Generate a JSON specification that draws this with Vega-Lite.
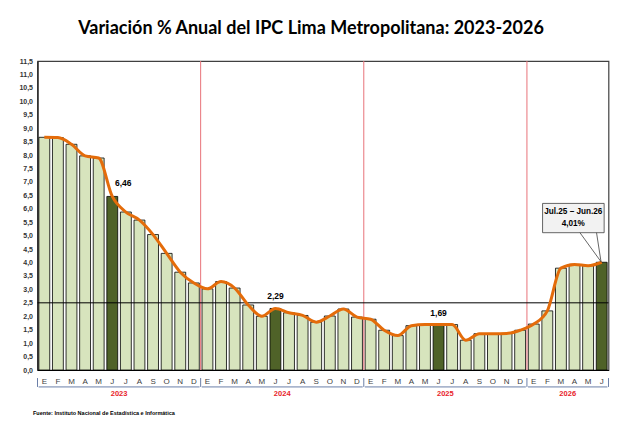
{
  "$schema": "https://vega.github.io/schema/vega-lite/v6.json",
  "autosize": {"type": "none"},
  "width": 571,
  "height": 309,
  "padding": {"left": 37.5, "top": 61, "right": 31.5, "bottom": 66},
  "background": "white",
  "config": {
    "locale": {"number": {"decimal": ",", "thousands": ".", "grouping": [3], "currency": ["", ""]}},
    "view": {"stroke": "#404040", "strokeWidth": 1.2},
    "axisY": {"grid": false, "ticks": false, "labelOverlap": false, "labelFont": "Liberation Sans", "labelFontWeight": "bold", "labelFontSize": 7, "labelColor": "#333", "labelPadding": 5, "domainColor": "#000", "domainWidth": 1}
  },
  "title": {
    "text": "Variación % Anual del IPC Lima Metropolitana: 2023-2026",
    "font": "Lato", "fontSize": 18, "fontWeight": "bold", "color": "#000",
    "anchor": "middle", "frame": "group", "offset": 5, "baseline": "alphabetic", "dx": -12
  },
  "datasets": {
    "ipc": [
      {"t": "2023-01", "v": 8.66, "d": "n"}, {"t": "2023-02", "v": 8.65, "d": "n"}, {"t": "2023-03", "v": 8.40, "d": "n"},
      {"t": "2023-04", "v": 7.97, "d": "n"}, {"t": "2023-05", "v": 7.89, "d": "n"}, {"t": "2023-06", "v": 6.46, "d": "s"},
      {"t": "2023-07", "v": 5.88, "d": "n"}, {"t": "2023-08", "v": 5.58, "d": "n"}, {"t": "2023-09", "v": 5.04, "d": "n"},
      {"t": "2023-10", "v": 4.34, "d": "n"}, {"t": "2023-11", "v": 3.64, "d": "n"}, {"t": "2023-12", "v": 3.24, "d": "n"},
      {"t": "2024-01", "v": 3.02, "d": "n"}, {"t": "2024-02", "v": 3.29, "d": "n"}, {"t": "2024-03", "v": 3.05, "d": "n"},
      {"t": "2024-04", "v": 2.42, "d": "n"}, {"t": "2024-05", "v": 2.00, "d": "n"}, {"t": "2024-06", "v": 2.29, "d": "s"},
      {"t": "2024-07", "v": 2.13, "d": "n"}, {"t": "2024-08", "v": 2.03, "d": "n"}, {"t": "2024-09", "v": 1.78, "d": "n"},
      {"t": "2024-10", "v": 2.01, "d": "n"}, {"t": "2024-11", "v": 2.27, "d": "n"}, {"t": "2024-12", "v": 1.97, "d": "n"},
      {"t": "2025-01", "v": 1.89, "d": "n"}, {"t": "2025-02", "v": 1.48, "d": "n"}, {"t": "2025-03", "v": 1.28, "d": "n"},
      {"t": "2025-04", "v": 1.65, "d": "n"}, {"t": "2025-05", "v": 1.69, "d": "n"}, {"t": "2025-06", "v": 1.69, "d": "s"},
      {"t": "2025-07", "v": 1.69, "d": "n"}, {"t": "2025-08", "v": 1.11, "d": "n"}, {"t": "2025-09", "v": 1.35, "d": "n"},
      {"t": "2025-10", "v": 1.35, "d": "n"}, {"t": "2025-11", "v": 1.36, "d": "n"}, {"t": "2025-12", "v": 1.48, "d": "n"},
      {"t": "2026-01", "v": 1.71, "d": "n"}, {"t": "2026-02", "v": 2.20, "d": "n"}, {"t": "2026-03", "v": 3.79, "d": "n"},
      {"t": "2026-04", "v": 3.93, "d": "n"}, {"t": "2026-05", "v": 3.88, "d": "n"}, {"t": "2026-06", "v": 4.01, "d": "s"}
    ],
    "anios": [
      {"anio": "2023", "s": 0, "e": 12},
      {"anio": "2024", "s": 12, "e": 24},
      {"anio": "2025", "s": 24, "e": 36},
      {"anio": "2026", "s": 36, "e": 42}
    ],
    "cortes": [{"b": 0}, {"b": 12}, {"b": 24}, {"b": 36}, {"b": 42}],
    "rojos": [{"b": 12}, {"b": 24}, {"b": 36}],
    "uno": [{}]
  },
  "layer": [
    {
      "data": {"name": "ipc"},
      "mark": {"type": "bar", "stroke": "#000", "strokeWidth": 0.8},
      "encoding": {
        "x": {
          "field": "t", "type": "ordinal", "sort": null, "title": null,
          "scale": {"paddingInner": 0.2, "paddingOuter": 0.1},
          "axis": {
            "labelExpr": "['E','F','M','A','M','J','J','A','S','O','N','D'][toNumber(substring(datum.value,5,7))-1]",
            "labelAngle": 0, "ticks": false, "domainColor": "#000", "domainWidth": 1,
            "labelFont": "Liberation Sans", "labelFontSize": 8, "labelColor": "#404040", "labelPadding": 7
          }
        },
        "y": {
          "field": "v", "type": "quantitative", "title": null,
          "scale": {"domain": [0, 11.5], "nice": false, "zero": true},
          "axis": {"values": [0, 0.5, 1, 1.5, 2, 2.5, 3, 3.5, 4, 4.5, 5, 5.5, 6, 6.5, 7, 7.5, 8, 8.5, 9, 9.5, 10, 10.5, 11, 11.5], "format": ".1f", "labelOverlap": false}
        },
        "fill": {"field": "d", "type": "nominal", "scale": {"domain": ["n", "s"], "range": ["#d7e4bd", "#4f6228"]}, "legend": null}
      }
    },
    {
      "layer": [
        {
          "data": {"name": "rojos"},
          "mark": {"type": "rule", "color": "#e8737a", "strokeWidth": 1},
          "encoding": {
            "x": {"field": "b", "type": "quantitative", "scale": {"domain": [0, 42], "nice": false, "zero": false}, "axis": null},
            "y": {"datum": 0, "title": null, "axis": {"values": [0, 0.5, 1, 1.5, 2, 2.5, 3, 3.5, 4, 4.5, 5, 5.5, 6, 6.5, 7, 7.5, 8, 8.5, 9, 9.5, 10, 10.5, 11, 11.5], "format": ".1f", "labelOverlap": false}},
            "y2": {"datum": 11.5}
          }
        },
        {
          "data": {"name": "anios"},
          "transform": [{"calculate": "datum.s + 0.08", "as": "s2"}, {"calculate": "datum.e - 0.08", "as": "e2"}],
          "mark": {"type": "rule", "color": "#6b7fa8", "strokeWidth": 1},
          "encoding": {
            "x": {"field": "s2", "type": "quantitative", "axis": null},
            "x2": {"field": "e2"},
            "y": {"datum": -0.63, "title": null, "axis": {"values": [0, 0.5, 1, 1.5, 2, 2.5, 3, 3.5, 4, 4.5, 5, 5.5, 6, 6.5, 7, 7.5, 8, 8.5, 9, 9.5, 10, 10.5, 11, 11.5], "format": ".1f", "labelOverlap": false}}
          }
        },
        {
          "data": {"name": "cortes"},
          "mark": {"type": "rule", "color": "#6b7fa8", "strokeWidth": 1},
          "encoding": {
            "x": {"field": "b", "type": "quantitative", "axis": null},
            "y": {"datum": -0.3, "title": null, "axis": {"values": [0, 0.5, 1, 1.5, 2, 2.5, 3, 3.5, 4, 4.5, 5, 5.5, 6, 6.5, 7, 7.5, 8, 8.5, 9, 9.5, 10, 10.5, 11, 11.5], "format": ".1f", "labelOverlap": false}},
            "y2": {"datum": -0.63}
          }
        },
        {
          "data": {"name": "anios"},
          "transform": [{"calculate": "(datum.s + datum.e) / 2", "as": "mid"}],
          "mark": {"type": "text", "color": "#e8232a", "font": "Liberation Sans", "fontWeight": "bold", "fontSize": 7.5, "baseline": "middle"},
          "encoding": {
            "x": {"field": "mid", "type": "quantitative", "axis": null},
            "y": {"datum": -0.88, "title": null, "axis": {"values": [0, 0.5, 1, 1.5, 2, 2.5, 3, 3.5, 4, 4.5, 5, 5.5, 6, 6.5, 7, 7.5, 8, 8.5, 9, 9.5, 10, 10.5, 11, 11.5], "format": ".1f", "labelOverlap": false}},
            "text": {"field": "anio"}
          }
        },
        {
          "data": {"name": "uno"},
          "mark": {"type": "text", "text": "Fuente: Instituto Nacional de Estadística e Informática", "color": "#000", "font": "Liberation Sans", "fontWeight": "bold", "fontSize": 5.5, "align": "left", "baseline": "middle"},
          "encoding": {
            "x": {"datum": -0.33, "type": "quantitative", "axis": null},
            "y": {"datum": -1.6, "title": null, "axis": {"values": [0, 0.5, 1, 1.5, 2, 2.5, 3, 3.5, 4, 4.5, 5, 5.5, 6, 6.5, 7, 7.5, 8, 8.5, 9, 9.5, 10, 10.5, 11, 11.5], "format": ".1f", "labelOverlap": false}}
          }
        }
      ]
    },
    {
      "data": {"name": "ipc"},
      "layer": [
        {
          "data": {"name": "uno"},
          "mark": {"type": "rule", "color": "#000", "strokeWidth": 1},
          "encoding": {"y": {"datum": 2.5, "title": null, "axis": {"values": [0, 0.5, 1, 1.5, 2, 2.5, 3, 3.5, 4, 4.5, 5, 5.5, 6, 6.5, 7, 7.5, 8, 8.5, 9, 9.5, 10, 10.5, 11, 11.5], "format": ".1f", "labelOverlap": false}}}
        },
        {
          "mark": {"type": "line", "color": "#e46c0a", "strokeWidth": 3, "interpolate": "monotone"},
          "encoding": {
            "x": {"field": "t", "type": "ordinal", "sort": null, "scale": {"paddingInner": 0.2, "paddingOuter": 0.1}, "axis": null},
            "y": {"field": "v", "type": "quantitative", "title": null, "axis": {"values": [0, 0.5, 1, 1.5, 2, 2.5, 3, 3.5, 4, 4.5, 5, 5.5, 6, 6.5, 7, 7.5, 8, 8.5, 9, 9.5, 10, 10.5, 11, 11.5], "format": ".1f", "labelOverlap": false}}
          }
        },
        {
          "transform": [{"filter": "datum.t == '2023-06'"}],
          "mark": {"type": "text", "font": "Liberation Sans", "fontWeight": "bold", "fontSize": 8.5, "color": "#000", "dy": -13, "dx": 11, "baseline": "middle"},
          "encoding": {
            "x": {"field": "t", "type": "ordinal", "sort": null, "axis": null},
            "y": {"field": "v", "type": "quantitative", "title": null, "axis": {"values": [0, 0.5, 1, 1.5, 2, 2.5, 3, 3.5, 4, 4.5, 5, 5.5, 6, 6.5, 7, 7.5, 8, 8.5, 9, 9.5, 10, 10.5, 11, 11.5], "format": ".1f", "labelOverlap": false}},
            "text": {"field": "v", "type": "quantitative", "format": ".2f"}
          }
        },
        {
          "transform": [{"filter": "datum.t == '2024-06' || datum.t == '2025-06'"}],
          "mark": {"type": "text", "font": "Liberation Sans", "fontWeight": "bold", "fontSize": 8.5, "color": "#000", "dy": -12, "baseline": "middle"},
          "encoding": {
            "x": {"field": "t", "type": "ordinal", "sort": null, "axis": null},
            "y": {"field": "v", "type": "quantitative", "title": null, "axis": {"values": [0, 0.5, 1, 1.5, 2, 2.5, 3, 3.5, 4, 4.5, 5, 5.5, 6, 6.5, 7, 7.5, 8, 8.5, 9, 9.5, 10, 10.5, 11, 11.5], "format": ".1f", "labelOverlap": false}},
            "text": {"field": "v", "type": "quantitative", "format": ".2f"}
          }
        }
      ]
    },
    {
      "data": {"name": "uno"},
      "layer": [
        {
          "mark": {"type": "rect", "fill": "#f2f2f2", "stroke": "#404040", "strokeWidth": 0.8},
          "encoding": {
            "x": {"datum": 37.15, "type": "quantitative", "scale": {"domain": [0, 42], "nice": false, "zero": false}, "axis": null},
            "x2": {"datum": 41.68},
            "y": {"datum": 6.2, "title": null, "axis": {"values": [0, 0.5, 1, 1.5, 2, 2.5, 3, 3.5, 4, 4.5, 5, 5.5, 6, 6.5, 7, 7.5, 8, 8.5, 9, 9.5, 10, 10.5, 11, 11.5], "format": ".1f", "labelOverlap": false}},
            "y2": {"datum": 5.11}
          }
        },
        {
          "mark": {"type": "rule", "color": "#404040", "strokeWidth": 0.8},
          "encoding": {
            "x": {"datum": 39.9, "type": "quantitative", "axis": null},
            "x2": {"datum": 41.45},
            "y": {"datum": 5.11, "title": null, "axis": {"values": [0, 0.5, 1, 1.5, 2, 2.5, 3, 3.5, 4, 4.5, 5, 5.5, 6, 6.5, 7, 7.5, 8, 8.5, 9, 9.5, 10, 10.5, 11, 11.5], "format": ".1f", "labelOverlap": false}},
            "y2": {"datum": 4.03}
          }
        },
        {
          "mark": {"type": "rule", "color": "#404040", "strokeWidth": 0.8},
          "encoding": {
            "x": {"datum": 41.12, "type": "quantitative", "axis": null},
            "x2": {"datum": 41.45},
            "y": {"datum": 5.11, "title": null, "axis": {"values": [0, 0.5, 1, 1.5, 2, 2.5, 3, 3.5, 4, 4.5, 5, 5.5, 6, 6.5, 7, 7.5, 8, 8.5, 9, 9.5, 10, 10.5, 11, 11.5], "format": ".1f", "labelOverlap": false}},
            "y2": {"datum": 4.03}
          }
        },
        {
          "mark": {"type": "text", "text": "Jul.25 – Jun.26", "font": "Liberation Sans", "fontWeight": "bold", "fontSize": 8.2, "color": "#000", "baseline": "middle"},
          "encoding": {
            "x": {"datum": 39.41, "type": "quantitative", "axis": null},
            "y": {"datum": 5.89, "title": null, "axis": {"values": [0, 0.5, 1, 1.5, 2, 2.5, 3, 3.5, 4, 4.5, 5, 5.5, 6, 6.5, 7, 7.5, 8, 8.5, 9, 9.5, 10, 10.5, 11, 11.5], "format": ".1f", "labelOverlap": false}}
          }
        },
        {
          "mark": {"type": "text", "text": "4,01%", "font": "Liberation Sans", "fontWeight": "bold", "fontSize": 8.2, "color": "#000", "baseline": "middle"},
          "encoding": {
            "x": {"datum": 39.41, "type": "quantitative", "axis": null},
            "y": {"datum": 5.42, "title": null, "axis": {"values": [0, 0.5, 1, 1.5, 2, 2.5, 3, 3.5, 4, 4.5, 5, 5.5, 6, 6.5, 7, 7.5, 8, 8.5, 9, 9.5, 10, 10.5, 11, 11.5], "format": ".1f", "labelOverlap": false}}
          }
        }
      ]
    }
  ],
  "resolve": {"scale": {"x": "independent"}}
}
